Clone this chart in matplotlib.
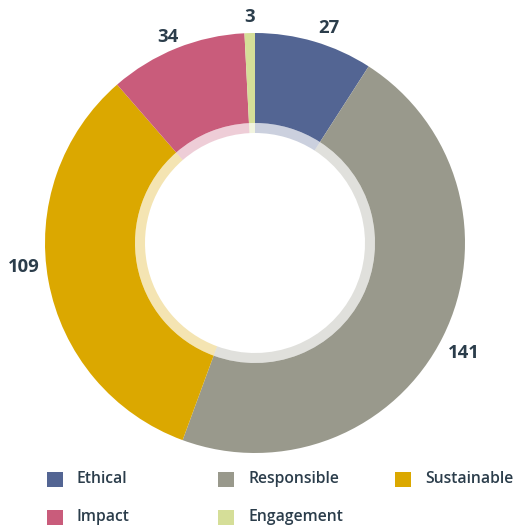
import numpy as np
import matplotlib
matplotlib.use("Agg")
import matplotlib.pyplot as plt
from matplotlib.patches import Rectangle

# data
categories = ["Ethical", "Responsible", "Sustainable", "Impact", "Engagement"]
values = [27, 141, 109, 34, 3]
# slice sizes as drawn in the original (percent of the ring)
shares = [9.1, 46.5, 33.0, 10.6, 0.8]
colors = ["#536593", "#99998c", "#dba800", "#c95c7b", "#d5de98"]

text_color = "#2b3d4b"
plt.rcParams["font.family"] = ["Open Sans", "DejaVu Sans"]

W, H = 515, 525
fig = plt.figure(figsize=(W / 100, H / 100), dpi=100)
ax = fig.add_axes([0, 0, 1, 1])

cx, cy = 255, H - 243
r_out, r_mid, r_in = 210, 120, 110

# main ring
wedges, _ = ax.pie(shares, colors=colors, radius=r_out, center=(cx, cy),
                   startangle=90, counterclock=False,
                   wedgeprops=dict(width=r_out - r_mid, linewidth=0))
# pale inner rim
ax.pie(shares, colors=colors, radius=r_mid, center=(cx, cy),
       startangle=90, counterclock=False,
       wedgeprops=dict(width=r_mid - r_in, linewidth=0, alpha=0.3))

# value labels around the ring (pixel nudges to mimic original placement)
label_r = 228
nudges = [(10, -4), (5, -8), (-7, 17), (-2, -5), (0, -2)]
for w, v, (dx, dy) in zip(wedges, values, nudges):
    a = np.deg2rad((w.theta1 + w.theta2) / 2)
    ax.text(cx + label_r * np.cos(a) + dx, cy + label_r * np.sin(a) + dy,
            str(v), ha="center", va="center", fontsize=13.3,
            fontweight="bold", color=text_color)

# legend laid out in rows of three
col_x = [47, 218, 395]
row_y = [H - 479, H - 517]
for i, (name, c) in enumerate(zip(categories, colors)):
    x = col_x[i % 3]
    y = row_y[i // 3]
    ax.add_patch(Rectangle((x, y - 7.5), 16, 15, color=c, linewidth=0))
    ax.text(x + 30, y, name, ha="left", va="center", fontsize=11.3,
            fontweight="semibold", color=text_color)

ax.set_xlim(0, W)
ax.set_ylim(0, H)
ax.set_aspect("equal")
ax.axis("off")

fig.savefig("out.png", dpi=100)
